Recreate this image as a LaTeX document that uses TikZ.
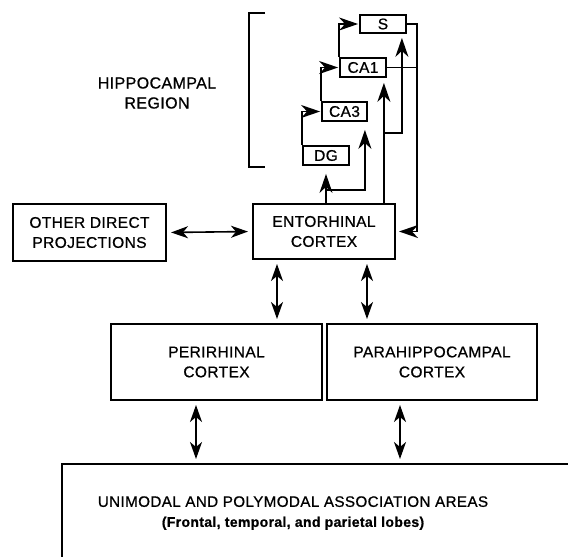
\documentclass[tikz,border=0pt]{standalone}
\usepackage{fontspec}
\setmainfont{Liberation Sans}[LetterSpace=2.5, FakeBold=0.8]
\usetikzlibrary{arrows.meta,positioning,calc}

\tikzset{
  box/.style={draw, line width=2pt, inner sep=0pt, align=center,
    font=\fontsize{15.5}{20}\selectfont},
  small/.style={box, line width=1.8pt},
  tip/.style={-{Stealth[length=19pt,width=13pt,inset=6pt]}, line width=1.8pt},
  dbl/.style={{Stealth[length=17pt,width=12pt,inset=5pt]}-{Stealth[length=17pt,width=12pt,inset=5pt]},
    line width=1.6pt, shorten <=4pt, shorten >=4pt},
}

\begin{document}
\begin{tikzpicture}[x=1pt, y=-1pt]
            \useasboundingbox (0,0) rectangle (568,557);
            \clip (0,0) rectangle (568,557);

            % Hippocampal region
            \draw[line width=1.8pt] (265,13) -- (249,13) -- (249,167) -- (265,167);
            \node[align=center, font=\fontsize{16}{20}\selectfont] (hip) at (157,93) {HIPPOCAMPAL\\REGION};
            \node[small, minimum width=46pt, minimum height=18pt] (S) at (383,24) {S};
            \node[small, minimum width=46pt, minimum height=19pt] (CA1) at (363,67.5) {CA1};
            \node[small, minimum width=45pt, minimum height=19pt] (CA3) at (344.5,111.5) {CA3};
            \node[small, minimum width=46pt, minimum height=19pt] (DG) at (326,155.5) {DG};

            % Cortical boxes
            \node[box, minimum width=142pt, minimum height=55pt] (EC) at (324,231.5) {ENTORHINAL\\CORTEX};
            \node[box, minimum width=153pt, minimum height=57pt] (oth) at (89.5,232.5) {OTHER DIRECT\\PROJECTIONS};
            \node[box, minimum width=211pt, minimum height=76pt] (peri) at (216.5,362) {PERIRHINAL\\CORTEX};
            \node[box, minimum width=210pt, minimum height=76pt] (para) at (432,362) {PARAHIPPOCAMPAL\\CORTEX};
            \node[box, minimum width=578pt, minimum height=156pt] (uni) at (351,542) {};
            \node[align=center, font=\fontsize{15.2}{20}\selectfont] (unitext) at (293,513)
                {UNIMODAL AND POLYMODAL ASSOCIATION AREAS\\{\fontsize{14}{20}\selectfont\bfseries (Frontal, temporal, and parietal lobes)}};

            % Trisynaptic loop
            \draw[tip, shorten >=1pt] (DG.north west) |- (CA3.west);
            \draw[tip, shorten >=1pt] (CA3.north west) |- (CA1.west);
            \draw[tip, shorten >=1pt] (CA1.north west) |- (S.west);

            % Entorhinal input
            \draw[tip, shorten >=8pt] (DG.south |- EC.north) -- (DG.south);
            \coordinate (b1) at (DG.south |- 0,190);
            \draw[tip, shorten >=8pt] (b1) -| ([xshift=-3pt]CA3.south east);
            \draw[tip, shorten >=5pt] ([xshift=-3pt]CA1.south east |- EC.north) -- ([xshift=-3pt]CA1.south east);
            \coordinate (b2) at ([xshift=-3pt]CA1.south east |- 0,133);
            \draw[tip, shorten >=4pt] (b2) -| ([xshift=-5pt]S.south east);

            % Return to entorhinal
            \coordinate (ret) at (417,0);
            \draw[tip, shorten >=3pt] (S.east) -| (ret |- EC.east) -- (EC.east);
            \draw[line width=1.8pt] (CA1.east) -- (ret |- CA1.east);

            % Reciprocal links
            \draw[dbl] (oth.east) -- (EC.west);
            \draw[dbl] ([xshift=25pt]EC.south west) -- ([xshift=25pt]EC.south west |- peri.north);
            \draw[dbl] ([xshift=-29pt]EC.south east) -- ([xshift=-29pt]EC.south east |- para.north);
            \draw[dbl] ([xshift=86pt]peri.south west) -- ([xshift=86pt]peri.south west |- uni.north);
            \draw[dbl] ([xshift=74pt]para.south west) -- ([xshift=74pt]para.south west |- uni.north);
        \end{tikzpicture}
\end{document}
